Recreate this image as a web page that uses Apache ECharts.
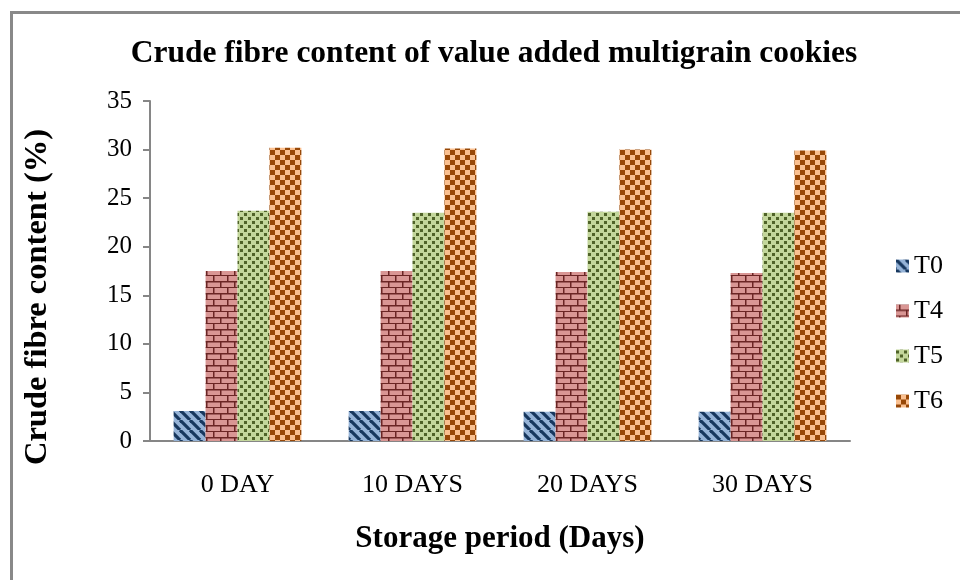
<!DOCTYPE html>
<html>
<head>
<meta charset="utf-8">
<script src="https://cdn.jsdelivr.net/npm/echarts@6/dist/echarts.min.js"></script>
<style>
  html, body { margin: 0; padding: 0; background: #fff; }
  #frame { position: absolute; left: 10px; top: 11px; width: 960px; height: 580px; border: 3px solid #898989; box-sizing: border-box; }
  #main { position: absolute; left: 0; top: 0; width: 960px; height: 580px; }
</style>
</head>
<body>
<div id="frame"></div>
<div id="main"></div>
<script>
var categories = ['0 DAY', '10 DAYS', '20 DAYS', '30 DAYS'];
var seriesNames = ['T0', 'T4', 'T5', 'T6'];
var t0 = [3.1, 3.1, 3.0, 3.0];
var t4 = [17.5, 17.5, 17.4, 17.3];
var t5 = [23.7, 23.5, 23.6, 23.5];
var t6 = [30.2, 30.1, 30.0, 29.9];
var yTicks = [0, 5, 10, 15, 20, 25, 30, 35];

function tile(w, h, draw) {
    var c = document.createElement('canvas');
    c.width = w;
    c.height = h;
    draw(c.getContext('2d'), w, h);
    return c;
}

// diagonal stripes
var stripes = tile(10, 10, function (ctx, w, h) {
    ctx.fillStyle = '#95b3d7';
    ctx.fillRect(0, 0, w, h);
    ctx.strokeStyle = '#17375e';
    ctx.lineWidth = 3.2;
    [-10, 0, 10].forEach(function (o) {
        ctx.beginPath();
        ctx.moveTo(o, 0);
        ctx.lineTo(o + 10, 10);
        ctx.stroke();
    });
});

// bricks
var bricks = tile(14, 12, function (ctx, w, h) {
    ctx.fillStyle = '#d99694';
    ctx.fillRect(0, 0, w, h);
    ctx.fillStyle = '#6b2524';
    ctx.fillRect(0, 5, w, 1.5);
    ctx.fillRect(0, 11, w, 1.5);
    ctx.fillRect(3, 0, 1.5, 6);
    ctx.fillRect(10, 6, 1.5, 6);
});

// dots
var dots = tile(8, 8, function (ctx, w, h) {
    ctx.fillStyle = '#c3d69b';
    ctx.fillRect(0, 0, w, h);
    ctx.fillStyle = '#4f6228';
    ctx.fillRect(0, 1, 3, 3);
    ctx.fillRect(4, 5, 3, 3);
});

// checkerboard
var checks = tile(10, 10, function (ctx, w, h) {
    ctx.fillStyle = '#fac090';
    ctx.fillRect(0, 0, w, h);
    ctx.fillStyle = '#984807';
    ctx.fillRect(0, 0, 5, 5);
    ctx.fillRect(5, 5, 5, 5);
});

var fills = [stripes, bricks, dots, checks];
var values = [t0, t4, t5, t6];

var chart = echarts.init(document.getElementById('main'), null, { renderer: 'canvas' });

var option = {
    animation: false,
    textStyle: { fontFamily: 'Liberation Serif' },
    title: {
        text: 'Crude fibre content of value added multigrain cookies',
        left: 489,
        textAlign: 'center',
        top: 33,
        textStyle: { fontFamily: 'Liberation Serif', fontSize: 31.5, fontWeight: 'bold', color: '#000' }
    },
    legend: {
        orient: 'vertical',
        left: 891,
        top: 248,
        itemWidth: 13,
        itemHeight: 13,
        itemGap: 19,
        icon: 'rect',
        data: seriesNames,
        textStyle: { fontFamily: 'Liberation Serif', fontSize: 26, color: '#000', padding: [0, 0, 0, 0] }
    },
    grid: { left: 150, right: 110, top: 101, bottom: 139 },
    xAxis: {
        type: 'category',
        data: categories,
        name: 'Storage period (Days)',
        nameLocation: 'middle',
        nameGap: 82,
        nameTextStyle: { fontFamily: 'Liberation Serif', fontSize: 31, fontWeight: 'bold', color: '#000' },
        axisLine: { lineStyle: { color: '#868686', width: 2 } },
        axisTick: { show: false },
        axisLabel: { fontFamily: 'Liberation Serif', fontSize: 26, color: '#000', margin: 31 }
    },
    yAxis: {
        type: 'value',
        min: 0,
        max: 35,
        interval: 5,
        name: 'Crude fibre content (%)',
        nameLocation: 'middle',
        nameGap: 96,
        nameTextStyle: { fontFamily: 'Liberation Serif', fontSize: 32.5, fontWeight: 'bold', color: '#000', padding: [0, 52, 0, 0] },
        axisLine: { show: true, lineStyle: { color: '#868686', width: 2 } },
        axisTick: { show: true, inside: false, length: 7, lineStyle: { color: '#868686', width: 2 } },
        splitLine: { show: false },
        axisLabel: {
            fontFamily: 'Liberation Serif', fontSize: 25, color: '#000', margin: 18,
            formatter: function (v) { return yTicks.indexOf(v) >= 0 ? String(v) : ''; }
        }
    },
    series: seriesNames.map(function (name, i) {
        return {
            name: name,
            type: 'bar',
            data: values[i],
            barGap: '0%',
            barCategoryGap: '27%',
            itemStyle: { color: { image: fills[i], repeat: 'repeat' } }
        };
    })
};

chart.setOption(option);
</script>
</body>
</html>
